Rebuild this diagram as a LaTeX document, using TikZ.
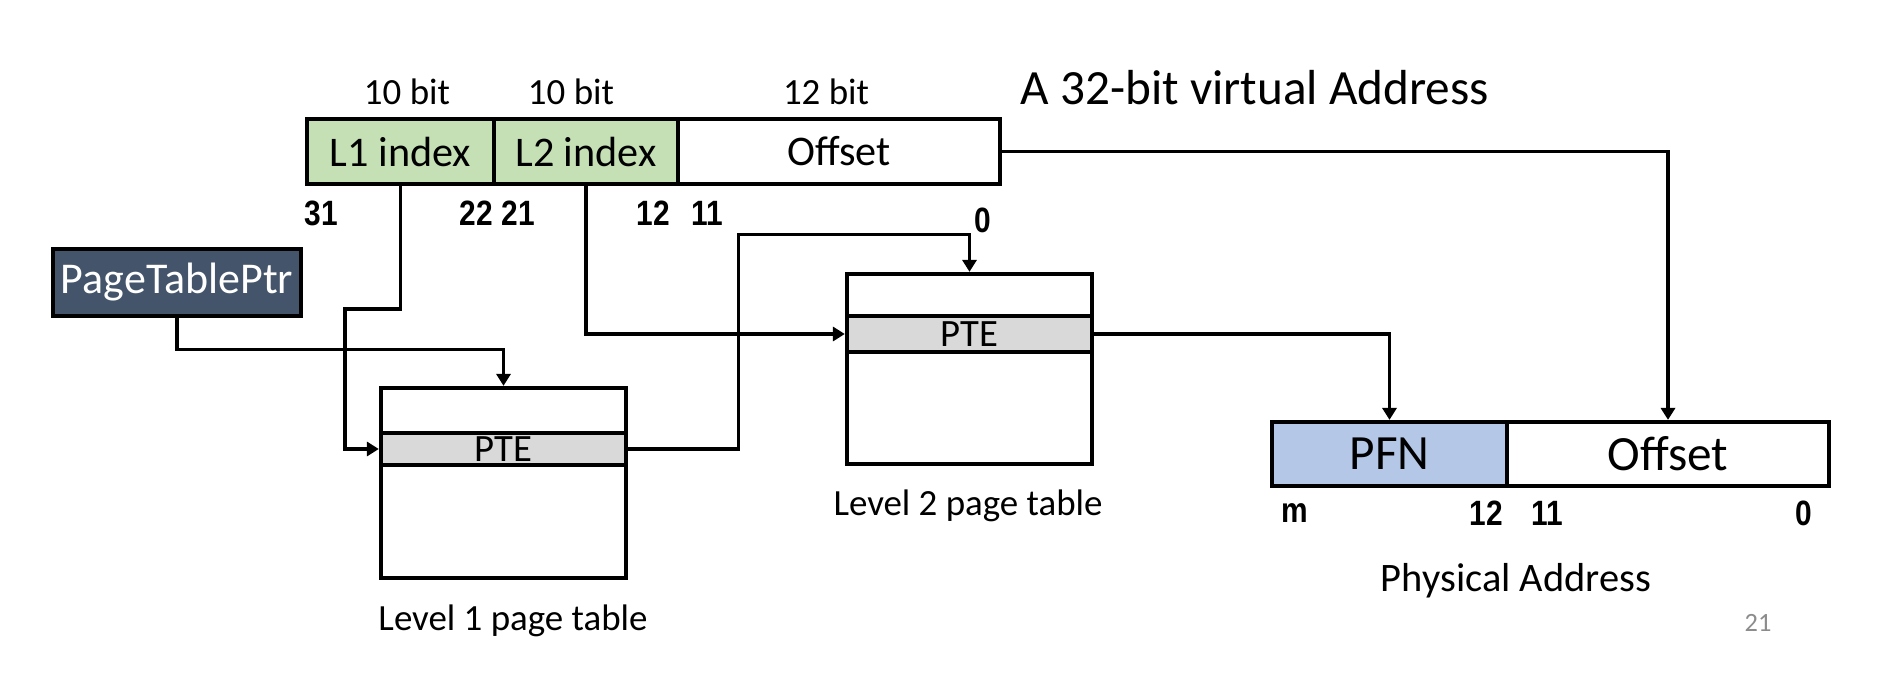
\documentclass[tikz,border=0pt]{standalone}
\usepackage{fontspec}
\setmainfont{Carlito}
\newfontfamily\bitfont[FakeStretch=0.85]{Liberation Sans}
\usetikzlibrary{arrows.meta}
\definecolor{idxgreen}{HTML}{C5E0B4}
\definecolor{pfnblue}{HTML}{B4C7E7}
\definecolor{ptegray}{HTML}{D9D9D9}
\definecolor{ptrslate}{HTML}{44546A}
\definecolor{pagegray}{HTML}{8C8C8C}

\begin{document}
\begin{tikzpicture}[x=0.01cm, y=-0.01cm, >={Triangle[length=3.4pt,width=4pt]}, inner sep=0pt,
    field/.style={draw, line width=1.2pt, minimum height=0.65cm, font=\fontsize{12}{14}\selectfont},
    tab/.style={draw, line width=1.2pt, minimum width=2.45cm, minimum height=1.9cm},
    pte/.style={draw, line width=1.2pt, fill=ptegray, minimum width=2.45cm, font=\fontsize{11}{12}\selectfont},
    bits/.style={font=\bitfont\bfseries\fontsize{10}{12}\selectfont},
    lbl/.style={font=\fontsize{10.5}{12}\selectfont},
    link/.style={->, line width=0.9pt}]
    \useasboundingbox (0,0) rectangle (1888,676);
    % virtual address
    \node[field, fill=idxgreen, minimum width=1.87cm] (l1idx) at (400.5,151.5) {L1 index};
    \node[field, fill=idxgreen, minimum width=1.84cm] (l2idx) at (586,151.5) {L2 index};
    \node[field, minimum width=3.22cm] (voff) at (839,151.5) {Offset};
    \node[lbl] (w1) at (407,92) {10 bit};
    \node[lbl] (w2) at (571,92) {10 bit};
    \node[lbl] (w3) at (826,92) {12 bit};
    \node[anchor=west, font=\fontsize{14}{16}\selectfont] (vtitle) at (1020,88) {A 32-bit virtual Address};
    \foreach \x/\t in {321/31, 476/22, 518/21, 653/12, 707/11}
        \node[bits] (vb\t) at (\x,213) {\t};
    \node[bits] (vb0) at (983,220) {0};
    % page table pointer
    \node[draw, line width=1.2pt, fill=ptrslate, text=white, minimum width=2.48cm, minimum height=0.67cm,
        font=\fontsize{12.5}{15}\selectfont] (ptp) at (177,282.5) {PageTablePtr};
    % tables
    \node[tab] (tab1) at (503.5,483) {};
    \node[pte, minimum height=0.32cm] (pte1) at (503.5,449) {PTE};
    \node[tab] (tab2) at (969.5,369) {};
    \node[pte, minimum height=0.36cm] (pte2) at (969.5,334) {PTE};
    \node[lbl] (cap1) at (513,621) {Level 1 page table};
    \node[lbl] (cap2) at (968,506) {Level 2 page table};
    % physical address
    \node[field, fill=pfnblue, minimum width=2.35cm, minimum height=0.64cm, font=\fontsize{14}{16}\selectfont] (pfn) at (1389.5,454) {PFN};
    \node[field, minimum width=3.22cm, minimum height=0.64cm, font=\fontsize{14}{16}\selectfont] (poff) at (1668,454) {Offset};
    \foreach \x/\t in {1295/m, 1486/12, 1547/11, 1804/0}
        \node[bits] (pb\t) at (\x,513) {\t};
    \node[font=\fontsize{11.5}{13}\selectfont] (pcap) at (1516,581) {Physical Address};
    \node[text=pagegray, font=\fontsize{7.5}{9}\selectfont] (pageno) at (1758,623) {21};
    % links
    \coordinate (l1bend) at (345,309);
    \draw[link] (l1idx.south) |- (l1bend) |- (pte1.west);
    \draw[link] (ptp.south) |- ([yshift=0.36cm]tab1.north) -- (tab1.north);
    \draw[link] (l2idx.south) |- (pte2.west);
    \draw[link] (pte1.east) -- ++(110,0) |- ([yshift=0.37cm]tab2.north) -- (tab2.north);
    \draw[link] (pte2.east) -| (pfn.north);
    \draw[link] (voff.east) -| (poff.north);
\end{tikzpicture}
\end{document}
